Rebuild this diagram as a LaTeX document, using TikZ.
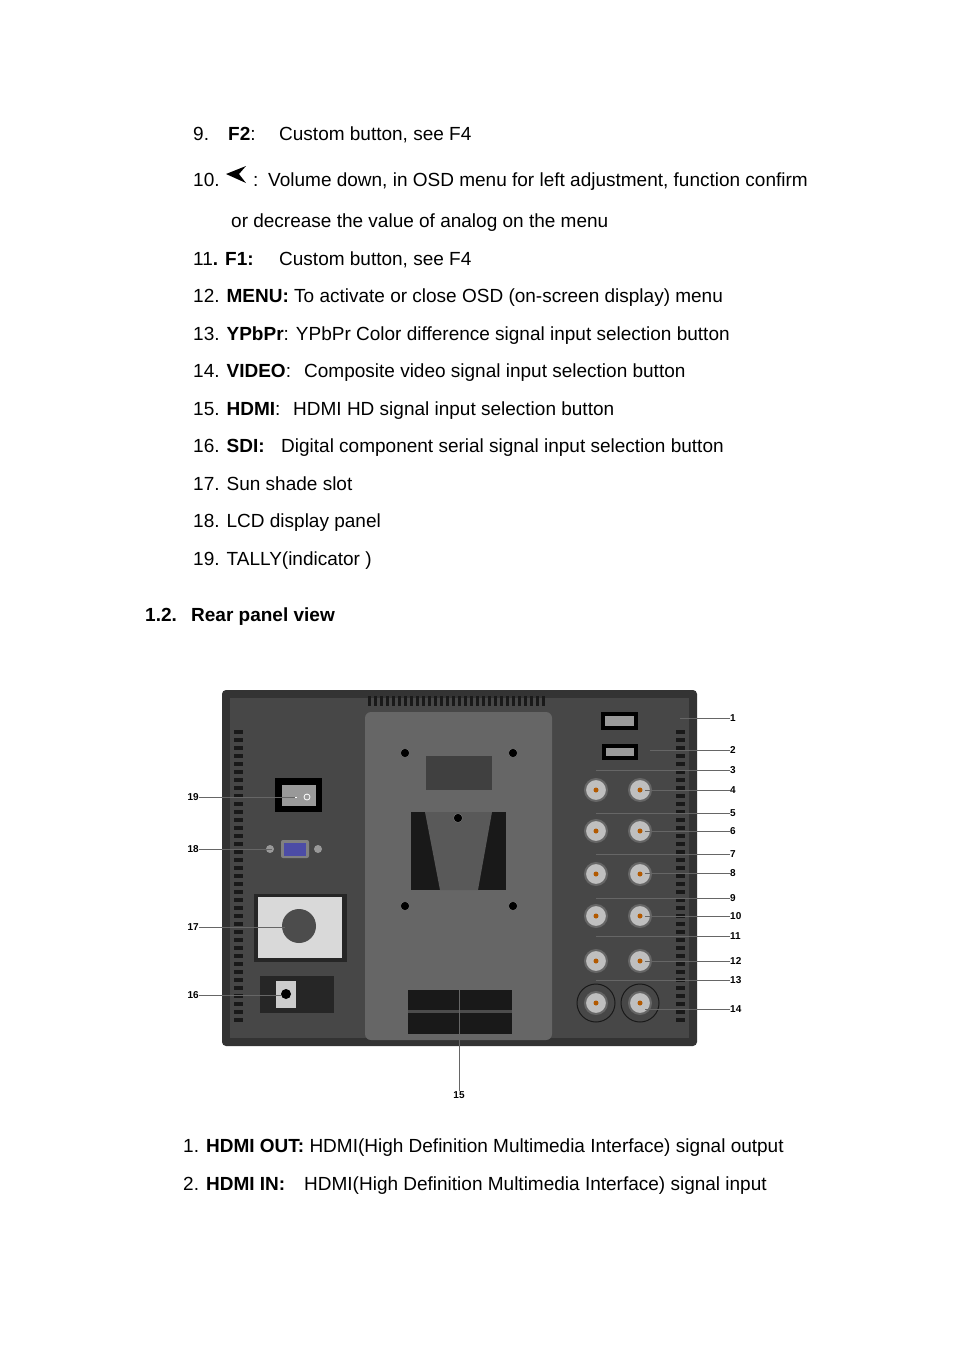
\documentclass[tikz,border=0pt]{standalone}
\usepackage{fontspec}
\setmainfont{Liberation Sans}
\begin{document}
\begin{tikzpicture}[x=1pt,y=-1pt,
  txt/.style={anchor=base west,inner sep=0,font=\fontsize{19}{22}\selectfont},
  lab/.style={inner sep=0,font=\fontsize{10}{11}\selectfont\bfseries},
  ldr/.style={draw=black!60,line width=0.7pt},
  bnc/.style={circle,draw=black!60,fill=black!25,line width=2pt,minimum size=22pt,inner sep=0},
  screw/.style={circle,fill=black,draw=black!50,minimum size=9pt,inner sep=0}]
\useasboundingbox[fill=white] (0,0) rectangle (954,1350);
% text
\node[txt] (t9a) at (193,140) {9.};
\node[txt] (t9b) at (228,140) {\textbf{F2}:};
\node[txt] (t9c) at (279,140) {Custom button, see F4};
\node[txt] (t10a) at (193,186) {10.};
\fill (226,174) -- (246,166) -- (239,174) -- (246,183) -- cycle;
\node[txt] (t10b) at (253,186) {:};
\node[txt] (t10c) at (268,186) {Volume down, in OSD menu for left adjustment, function confirm};
\node[txt] (t10d) at (231,227) {or decrease the value of analog on the menu};
\node[txt] (t11a) at (193,265) {11\textbf{. F1:}};
\node[txt] (t11c) at (279,265) {Custom button, see F4};
\node[txt] (t12) at (193,302) {12. \textbf{MENU:} To activate or close OSD (on-screen display) menu};
\node[txt] (t13) at (193,340) {13. \textbf{YPbPr}: YPbPr Color difference signal input selection button};
\node[txt] (t14) at (193,377) {14. \textbf{VIDEO}:};
\node[txt] (t14b) at (304,377) {Composite video signal input selection button};
\node[txt] (t15) at (193,415) {15. \textbf{HDMI}:};
\node[txt] (t15b) at (293,415) {HDMI HD signal input selection button};
\node[txt] (t16) at (193,452) {16. \textbf{SDI:}};
\node[txt] (t16b) at (281,452) {Digital component serial signal input selection button};
\node[txt] (t17) at (193,490) {17. Sun shade slot};
\node[txt] (t18) at (193,527) {18. LCD display panel};
\node[txt] (t19) at (193,565) {19. TALLY(indicator )};
\node[txt] (ha) at (145,621) {\textbf{1.2.}};
\node[txt] (hb) at (191,621) {\textbf{Rear panel view}};
\node[txt] (b1) at (183,1152) {1. \textbf{HDMI OUT:} HDMI(High Definition Multimedia Interface) signal output};
\node[txt] (b2) at (183,1190) {2. \textbf{HDMI IN:}};
\node[txt] (b2b) at (304,1190) {HDMI(High Definition Multimedia Interface) signal input};
% panel
\fill[black!80] (222,690) [rounded corners=4pt] rectangle (697,1046);
\fill[black!72] (230,698) rectangle (689,1038);
\foreach \yy in {730,738,...,1020}{
  \fill[black!90] (234,\yy) rectangle (243,\yy+4);
  \fill[black!90] (676,\yy) rectangle (685,\yy+4);}
\foreach \xx in {368,374,...,546}{\fill[black!90] (\xx,696) rectangle (\xx+3,706);}
\fill[black!60,rounded corners=6pt] (365,712) rectangle (552,1040);
\fill[black!75] (426,756) rectangle (492,790);
\fill[black!90] (411,812) rectangle (506,890);
\fill[black!65] (425,812) -- (492,812) -- (478,890) -- (440,890) -- cycle;
\fill[black!90] (408,990) rectangle (512,1034);
\fill[black!70] (408,1010) rectangle (512,1013);
\foreach \p in {(405,753),(513,753),(405,906),(513,906),(458,818)}{\node[screw] at \p {};}
% left components
\fill[black] (275,778) rectangle (322,812);
\fill[black!40] (282,785) rectangle (316,806);
\draw[white,line width=1pt] (291,797) -- (297,797);
\draw[white,line width=0.8pt] (307,797) circle (3pt);
\fill[black!50,rounded corners=2pt] (281,840) rectangle (309,858);
\fill[blue!50!black!70] (284,843) rectangle (306,856);
\fill[black!40] (270,849) circle (4pt) (318,849) circle (4pt);
\fill[black!85] (254,894) rectangle (347,962);
\fill[black!15] (258,897) rectangle (342,958);
\fill[black!70] (299,926) circle (17pt);
\fill[black!85] (260,976) rectangle (334,1013);
\fill[black!20] (276,981) rectangle (296,1008);
\fill[black] (286,994) circle (5pt);
% HDMI
\fill[black] (601,712) rectangle (638,730);
\fill[black!40] (605,716) rectangle (634,726);
\fill[black] (602,744) rectangle (638,760);
\fill[black!40] (606,748) rectangle (634,756);
% BNC
\foreach \yy in {790,831,874,916,961}{
  \node[bnc] at (596,\yy) {}; \fill[orange!70!black] (596,\yy) circle (2.5pt);
  \node[bnc] at (640,\yy) {}; \fill[orange!70!black] (640,\yy) circle (2.5pt);}
\foreach \xx in {596,640}{\draw[black!90,line width=1pt] (\xx,1003) circle (19pt);
  \node[bnc] at (\xx,1003) {}; \fill[orange!70!black] (\xx,1003) circle (2.5pt);}
% labels right
\foreach \n/\yy/\xs in {1/718/680,2/750/650,3/770/596,4/790/645,5/813/596,6/831/645,7/854/596,8/873/645,9/898/596,10/916/645,11/936/596,12/961/645,13/980/596,14/1009/645}{
  \node[lab,anchor=west] (r\n) at (730,\yy) {\n};
  \coordinate (rc\n) at (\xs,\yy);
  \draw[ldr] (rc\n) -- (r\n.west);}
\foreach \n/\yy/\xs in {19/797/295,18/849/272,17/927/285,16/995/282}{
  \node[lab,anchor=east] (l\n) at (199,\yy) {\n};
  \coordinate (lc\n) at (\xs,\yy);
  \draw[ldr] (l\n.east) -- (lc\n);}
\node[lab] (l15) at (459,1095) {15};
\coordinate (lc15) at (459,955);
\draw[ldr] (lc15) -- (l15.north);
\end{tikzpicture}
\end{document}
